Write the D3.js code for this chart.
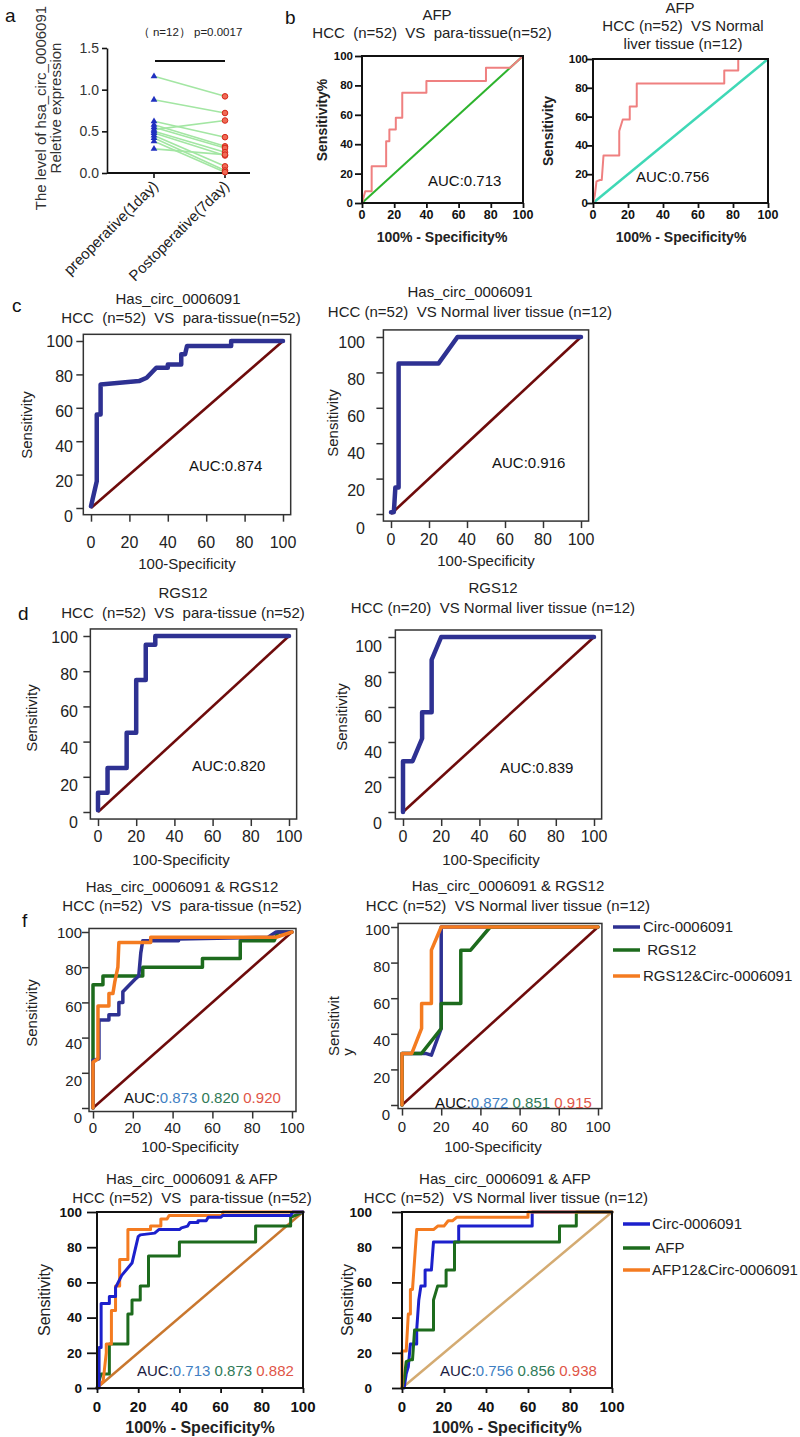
<!DOCTYPE html>
<html><head><meta charset="utf-8">
<script src="https://cdn.jsdelivr.net/npm/d3@7"></script>
<style>
body{margin:0;background:#fff}
text{font-family:"Liberation Sans",Arial,Helvetica,sans-serif;white-space:pre}
</style></head>
<body><svg id="fig" width="800" height="1437"></svg>
<script>
// ---------------- DATA ----------------
const rocTicks = [0, 20, 40, 60, 80, 100];
const aTicks = [0, 0.5, 1.0, 1.5];
const aCategories = ["preoperative(1day)", "Postoperative(7day)"];
const preValues  = [1.16, 0.88, 0.62, 0.58, 0.55, 0.52, 0.50, 0.48, 0.45, 0.42, 0.38, 0.29];
const postValues = [0.92, 0.72, 0.43, 0.32, 0.30, 0.63, 0.25, 0.21, 0.08, 0.03, 0.01, 0.22];
const diagonal = [[0, 0], [100, 100]];

// panel b : AFP
const afpPara = [[0,0],[1,4],[2,8],[6,8],[6,25],[15,25],[15,42],[17,42],[17,50],[21,50],[21,58],[25,58],[25,75],[40,75],[40,83],[77,83],[77,92],[92,92],[100,100]];
const afpNormal = [[0,0],[1,5],[2,15],[4,16],[5,16],[6,33],[15,33],[15,50],[17,58],[21,58],[21,67],[25,67],[25,83],[75,83],[75,92],[83,92],[83,100],[100,100]];
// panel c : Has_circ_0006091
const circPara = [[0,1],[3,16],[3,56],[5,56],[5,74],[25,76],[29,78],[34,84],[40,84],[40,86],[47,86],[47,92],[49,92],[50,97],[73,97],[73,100],[100,100]];
const circNormal = [[0,1],[1.5,1],[2.3,15],[4,15],[4,85],[25,85],[35,100],[100,100]];
// panel d : RGS12
const rgsPara = [[0,1],[0,11],[5,11],[5,25],[15,25],[15,45],[20,45],[20,75],[25,75],[25,95],[30,95],[30,100],[100,100]];
const rgsNormal = [[0,0],[0,29],[5,29],[10,42],[10,57],[15,57],[15,87],[20,100],[100,100]];
// panel f : combined circ + RGS12
const comboRgsParaCirc = [[0,0],[0,27],[3,28],[3,50],[8,50],[8,53],[13,53],[13,60],[15,60],[15,66],[21,73],[23,75],[24,88],[25,95],[43,95],[43,96],[88,97],[92,100],[100,100]];
const comboRgsParaRgs = [[0,0],[0,70],[5,70],[5,75],[25,75],[25,80],[55,80],[55,85],[74,85],[74,95],[91,95],[93,100],[100,100]];
const comboRgsParaBoth = [[0,0],[0,26],[2.5,28],[2.5,58],[8,58],[8,65],[10,65],[11,72],[12.5,80],[13,94],[29,94],[29,97],[92,97],[100,100]];
const comboRgsNormCirc = [[0,0],[0,29],[12,29],[15,28],[20,43],[20,100],[100,100]];
const comboRgsNormRgs = [[0,0],[0,29],[10,29],[20,43],[20,57],[30,57],[30,87],[35,87],[45,100],[100,100]];
const comboRgsNormBoth = [[0,0],[0,29],[5,29],[10,43],[10,57],[15,57],[15,87],[20,100],[100,100]];
// combined circ + AFP
const comboAfpParaCirc = [[0,0],[1,0],[1,23],[2,23],[2,48],[6,48],[6,52],[9,52],[9,57],[12,64],[17,71],[19,81],[20,86],[21,87],[28,88],[29,89],[30,90],[40,90],[41,91],[44,92],[45,94],[49,94],[49,95],[53,95],[54,97],[60,97],[61,98],[94,98],[95,100],[100,100]];
const comboAfpParaAfp = [[0,0],[2,8],[6,8],[6,25],[15,25],[15,42],[17,42],[17,50],[21,50],[21,58],[25,58],[25,75],[40,75],[40,83],[77,83],[77,92],[94,92],[94,97],[100,100]];
const comboAfpParaBoth = [[0,0],[3,4],[4.5,20],[4.5,25],[7,25],[7,44],[9,44],[9,58],[11,58],[11,73],[15,73],[15,90],[26,90],[26,92],[31,92],[31,96],[34,96],[35,98],[61,98],[61,100],[100,100]];
const comboAfpNormCirc = [[0,0],[1,0],[2,8],[3,12],[4,25],[7,25],[7,33],[8,50],[9,58],[11,58],[11,67],[14,67],[15,83],[27,83],[27,92],[62,92],[62,100],[100,100]];
const comboAfpNormAfp = [[0,0],[1,5],[2,15],[4,16],[5,16],[6,33],[15,33],[15,50],[17,58],[21,58],[21,67],[25,67],[25,83],[75,83],[75,92],[83,92],[83,100],[100,100]];
const comboAfpNormBoth = [[0,0],[0,21],[2,21],[3,42],[4,42],[4,56],[5,56],[6,73],[7,90],[15,90],[17,92],[20,92],[22,95],[24,95],[26,97],[60,97],[60,100],[100,100]];

const legendRgs = ["Circ-0006091", " RGS12", "RGS12&Circ-0006091"];
const legendAfp = ["Circ-0006091", " AFP", "AFP12&Circ-0006091"];

// ---------------- STYLE ----------------
const C = {
  navy: "#2e3192", darkred: "#6e0b0b", blue2: "#1c20cc", green: "#1d6b1d", orange: "#f47b20",
  pink: "#ef8080", lgreen: "#2db32d", teal: "#3fd8b6", brownDiag: "#c9772e", tanDiag: "#d4ab72",
  aucBlue: "#3f7fc3", aucGreen: "#2f7a57", aucRed: "#df5547", txt: "#222"
};

const svg = d3.select("#fig");

function txt(x, y, s, o = {}) {
  const t = svg.append("text").attr("x", x).attr("y", y).text(s)
    .attr("font-size", o.size || 15)
    .attr("text-anchor", o.anchor || "middle")
    .attr("fill", o.fill || C.txt)
    .attr("font-weight", o.bold ? "bold" : "normal");
  if (o.rotate) t.attr("transform", `rotate(${o.rotate},${x},${y})`);
  return t;
}

// ---------------- PANEL a ----------------
(function () {
  const ay = d3.scaleLinear().domain([0, 1.5]).range([173, 48]);
  const ax = d3.scalePoint().domain(aCategories).range([154, 225]);
  const g = svg.append("g");
  const yAxis = d3.axisLeft(ay).tickValues(aTicks).tickFormat(d3.format(".1f")).tickSize(5).tickSizeOuter(0).tickPadding(3);
  const gy = g.append("g").attr("transform", "translate(107,0)").call(yAxis);
  gy.select(".domain").attr("stroke", "#111").attr("stroke-width", 1.6);
  gy.selectAll(".tick line").attr("stroke", "#111").attr("stroke-width", 1.6);
  gy.selectAll("text").attr("font-size", 14).attr("fill", "#333").attr("font-family", null);
  // x axis
  g.append("line").attr("x1", 107).attr("x2", 250).attr("y1", ay(0)).attr("y2", ay(0)).attr("stroke", "#111").attr("stroke-width", 1.8);
  aCategories.forEach(c => {
    g.append("line").attr("x1", ax(c)).attr("x2", ax(c)).attr("y1", ay(0)).attr("y2", ay(0) + 5).attr("stroke", "#111").attr("stroke-width", 1.6);
    txt(ax(c) + 5, 187, c, { size: 15, anchor: "end", rotate: -45, fill: "#222" });
  });
  // paired lines
  const xPre = ax(aCategories[0]), xPost = ax(aCategories[1]);
  preValues.forEach((v, i) => {
    g.append("line").attr("x1", xPre).attr("y1", ay(v)).attr("x2", xPost).attr("y2", ay(postValues[i]))
      .attr("stroke", "#a3e6a3").attr("stroke-width", 1.6);
  });
  const tri = d3.symbol(d3.symbolTriangle, 20);
  preValues.forEach(v => g.append("path").attr("d", tri).attr("transform", `translate(${xPre},${ay(v)})`).attr("fill", "#2030c0"));
  postValues.forEach(v => g.append("circle").attr("cx", xPost).attr("cy", ay(v)).attr("r", 2.8).attr("fill", "#f06a55").attr("stroke", "#d42a1a").attr("stroke-width", 1));
  // significance bar
  g.append("line").attr("x1", 155).attr("x2", 225).attr("y1", 61).attr("y2", 61).attr("stroke", "#111").attr("stroke-width", 2);
  txt(190, 36, "（ n=12） p=0.0017", { size: 11.5, fill: "#222" });
  // y title
  txt(46, 108, "The level of hsa_circ_0006091", { size: 15, rotate: -90, fill: "#333" });
  txt(61, 108, "Reletive expression", { size: 15, rotate: -90, fill: "#333" });
})();

// ---------------- ROC PANELS ----------------
function roc(p) {
  const x = d3.scaleLinear().domain([0, 100]).range([p.x0, p.x100]);
  const y = d3.scaleLinear().domain([0, 100]).range([p.y0, p.y100]);
  const yl = d3.scaleLinear().domain([0, 100]).range([p.yLab0 ?? p.y0, p.yLab100 ?? p.y100]);
  const pad = p.pad || 0;
  const L = x(-pad), R = x(100 + pad), B = y(-pad), T = y(100 + pad);
  const g = svg.append("g");
  const line = d3.line().x(d => x(d[0])).y(d => y(d[1]));
  g.append("path").datum(diagonal).attr("d", line).attr("fill", "none")
    .attr("stroke", p.diag.color).attr("stroke-width", p.diag.w);
  p.series.forEach(s => g.append("path").datum(s.data).attr("d", line).attr("fill", "none")
    .attr("stroke", s.color).attr("stroke-width", p.lineW)
    .attr("stroke-linejoin", "round").attr("stroke-linecap", "round"));
  // box
  g.append("rect").attr("x", L).attr("y", T).attr("width", R - L).attr("height", B - T)
    .attr("fill", "none").attr("stroke", p.box.color).attr("stroke-width", p.box.w);
  // axes (ticks only, labels placed below)
  const gx = g.append("g").attr("transform", `translate(0,${B})`)
    .call(d3.axisBottom(x).tickValues(rocTicks).tickSize(p.tickX).tickSizeOuter(0).tickFormat(""));
  gx.select(".domain").remove();
  gx.selectAll(".tick line").attr("stroke", p.box.color).attr("stroke-width", p.tickW);
  const gy = g.append("g").attr("transform", `translate(${L},0)`)
    .call(d3.axisLeft(y).tickValues(rocTicks).tickSize(p.tickY).tickSizeOuter(0).tickFormat(""));
  gy.select(".domain").remove();
  gy.selectAll(".tick line").attr("stroke", p.box.color).attr("stroke-width", p.tickW);
  rocTicks.forEach(v => {
    txt(x(v), p.xLabBase, String(v), { size: p.tickFontX, bold: p.tickBold, fill: p.tickFill || C.txt });
    txt(p.yLabRight, yl(v), String(v), { size: p.tickFontY, bold: p.tickBold, anchor: "end", fill: p.tickFill || C.txt })
      .attr("dy", "0.35em");
  });
  // titles
  p.titles.forEach(t => txt(t[1], t[2], t[0], { size: p.titleSize || 15 }));
  txt(p.xTitle[1], p.xTitle[2], p.xTitle[0], { size: p.axTitleSize, bold: p.xTitleBold });
  p.yTitle.forEach(t => txt(t[1], t[2], t[0], { size: p.axTitleSize, bold: p.yTitleBold, rotate: -90 }));
  // AUC
  const a = svg.append("text").attr("x", p.auc.x).attr("y", p.auc.y).attr("font-size", p.auc.size || 15);
  p.auc.parts.forEach(q => a.append("tspan").text(q[0]).attr("fill", q[1]));
  // legend
  if (p.legend) {
    p.legend.items.forEach((it, i) => {
      const ly = p.legend.y[i];
      svg.append("line").attr("x1", p.legend.x1).attr("x2", p.legend.x2).attr("y1", ly).attr("y2", ly)
        .attr("stroke", p.series[it.si].color).attr("stroke-width", p.legend.w);
      txt(p.legend.tx, ly + 5, it.label, { size: 15, anchor: "start" });
    });
  }
}

const gpB = { box: { color: "#111", w: 2 }, tickX: 5, tickY: 7, tickW: 1.8, tickBold: true, tickFill: "#111",
  tickFontX: 12.5, tickFontY: 11.5, lineW: 2, axTitleSize: 14, xTitleBold: true, yTitleBold: true, pad: 0 };
const rStyle = { box: { color: "#333", w: 1.5 }, tickX: 7, tickY: 7, tickW: 1.5, tickBold: false,
  tickFontX: 16, tickFontY: 16, lineW: 4.5, axTitleSize: 15, pad: 4, diag: { color: C.darkred, w: 2.6 } };

const panels = [
  Object.assign({}, gpB, {
    x0: 362, x100: 523, y0: 203, y100: 56, xLabBase: 219, yLabRight: 353,
    diag: { color: C.lgreen, w: 2 }, series: [{ data: afpPara, color: C.pink }],
    titles: [["AFP", 437, 20], ["HCC  (n=52)  VS  para-tissue(n=52)", 432, 38]],
    xTitle: ["100% - Specificity%", 442, 242], yTitle: [["Sensitivity%", 327, 120]],
    auc: { x: 428, y: 186, parts: [["AUC:0.713", "#111"]] }
  }),
  Object.assign({}, gpB, {
    x0: 593, x100: 768, y0: 203, y100: 59, xLabBase: 219, yLabRight: 588,
    diag: { color: C.teal, w: 2.5 }, series: [{ data: afpNormal, color: C.pink }],
    titles: [["AFP", 680, 13], ["HCC (n=52)  VS Normal", 683, 31], ["liver tissue (n=12)", 683, 49]],
    xTitle: ["100% - Specificity%", 681, 242], yTitle: [["Sensitivity", 553, 131]],
    auc: { x: 636, y: 182, parts: [["AUC:0.756", "#111"]] }
  }),
  Object.assign({}, rStyle, {
    x0: 91, x100: 283, y0: 508, y100: 341, xLabBase: 548, yLabRight: 73, yLab0: 516, yLab100: 341,
    series: [{ data: circPara, color: C.navy }],
    titles: [["Has_circ_0006091", 178, 304], ["HCC  (n=52)  VS  para-tissue(n=52)", 181, 323]],
    xTitle: ["100-Specificity", 187, 569], yTitle: [["Sensitivity", 32, 425]],
    auc: { x: 189, y: 471, parts: [["AUC:0.874", "#111"]] }
  }),
  Object.assign({}, rStyle, {
    x0: 391, x100: 581, y0: 514, y100: 337, xLabBase: 545, yLabRight: 365, yLab0: 528, yLab100: 342,
    series: [{ data: circNormal, color: C.navy }],
    titles: [["Has_circ_0006091", 470, 297], ["HCC (n=52)  VS Normal liver tissue (n=12)", 470, 317]],
    xTitle: ["100-Specificity", 486, 566], yTitle: [["Sensitivity", 338, 423]],
    auc: { x: 492, y: 468, parts: [["AUC:0.916", "#111"]] }
  }),
  Object.assign({}, rStyle, {
    x0: 98, x100: 289, y0: 812, y100: 636, xLabBase: 842, yLabRight: 78, yLab0: 822, yLab100: 637,
    series: [{ data: rgsPara, color: C.navy }],
    titles: [["RGS12", 183, 598], ["HCC  (n=52)  VS  para-tissue (n=52)", 183, 618]],
    xTitle: ["100-Specificity", 181, 865], yTitle: [["Sensitivity", 37, 718]],
    auc: { x: 192, y: 771, parts: [["AUC:0.820", "#111"]] }
  }),
  Object.assign({}, rStyle, {
    x0: 403, x100: 594, y0: 812, y100: 637, xLabBase: 842, yLabRight: 382, yLab0: 823, yLab100: 646,
    series: [{ data: rgsNormal, color: C.navy }],
    titles: [["RGS12", 493, 593], ["HCC (n=20)  VS Normal liver tissue (n=12)", 493, 613]],
    xTitle: ["100-Specificity", 491, 865], yTitle: [["Sensitivity", 347, 717]],
    auc: { x: 500, y: 773, parts: [["AUC:0.839", "#111"]] }
  }),
  Object.assign({}, rStyle, {
    x0: 93, x100: 292, y0: 1108, y100: 932, pad: 2, xLabBase: 1133, yLabRight: 82, yLab0: 1118, yLab100: 933,
    tickFontX: 15, tickFontY: 15, lineW: 3.5,
    series: [{ data: comboRgsParaRgs, color: C.green }, { data: comboRgsParaCirc, color: C.navy }, { data: comboRgsParaBoth, color: C.orange }],
    titles: [["Has_circ_0006091 & RGS12", 182, 892], ["HCC (n=52)  VS  para-tissue (n=52)", 182, 911]],
    xTitle: ["100-Specificity", 190, 1152], yTitle: [["Sensitivity", 37, 1013]],
    auc: { x: 124, y: 1103, parts: [["AUC:", "#111"], ["0.873", C.aucBlue], [" 0.820", C.aucGreen], [" 0.920", C.aucRed]] }
  }),
  Object.assign({}, rStyle, {
    x0: 402, x100: 598, y0: 1105, y100: 927, pad: 2, xLabBase: 1132, yLabRight: 390, yLab0: 1115, yLab100: 930,
    tickFontX: 15, tickFontY: 15, lineW: 3.5,
    series: [{ data: comboRgsNormCirc, color: C.navy }, { data: comboRgsNormRgs, color: C.green }, { data: comboRgsNormBoth, color: C.orange }],
    titles: [["Has_circ_0006091 & RGS12", 508, 891], ["HCC (n=52)  VS Normal liver tissue (n=12)", 508, 911]],
    xTitle: ["100-Specificity", 493, 1152], yTitle: [["Sensitivit", 339, 1026], ["y", 353, 1052]],
    auc: { x: 435, y: 1108, parts: [["AUC:", "#111"], ["0.872", C.aucBlue], [" 0.851", C.aucGreen], [" 0.915", C.aucRed]] },
    legend: { x1: 613, x2: 640, tx: 643, w: 3.5, y: [927, 950, 976],
      items: [{ si: 0, label: legendRgs[0] }, { si: 1, label: legendRgs[1] }, { si: 2, label: legendRgs[2] }] }
  }),
  Object.assign({}, gpB, {
    x0: 97, x100: 303, y0: 1388, y100: 1212, xLabBase: 1412, yLabRight: 82, tickY: 10, tickFontX: 15, tickFontY: 13.5,
    lineW: 3, axTitleSize: 16, yTitleBold: false,
    diag: { color: C.brownDiag, w: 2.5 },
    series: [{ data: comboAfpParaAfp, color: C.green }, { data: comboAfpParaBoth, color: C.orange }, { data: comboAfpParaCirc, color: C.blue2 }],
    titles: [["Has_circ_0006091 & AFP", 192, 1184], ["HCC (n=52)  VS  para-tissue (n=52)", 192, 1203]],
    xTitle: ["100% - Specificity%", 200, 1433], yTitle: [["Sensitivity", 50, 1300]],
    auc: { x: 137, y: 1376, parts: [["AUC:", "#1a1a40"], ["0.713", C.aucBlue], [" 0.873", C.aucGreen], [" 0.882", C.aucRed]] }
  }),
  Object.assign({}, gpB, {
    x0: 402, x100: 612, y0: 1388, y100: 1212, xLabBase: 1412, yLabRight: 372, tickY: 10, tickFontX: 15, tickFontY: 13.5,
    lineW: 3, axTitleSize: 16, yTitleBold: false,
    diag: { color: C.tanDiag, w: 2.5 },
    series: [{ data: comboAfpNormCirc, color: C.blue2 }, { data: comboAfpNormAfp, color: C.green }, { data: comboAfpNormBoth, color: C.orange }],
    titles: [["Has_circ_0006091 & AFP", 505, 1184], ["HCC (n=52)  VS Normal liver tissue (n=12)", 506, 1203]],
    xTitle: ["100% - Specificity%", 507, 1433], yTitle: [["Sensitivity", 353, 1300]],
    auc: { x: 440, y: 1376, parts: [["AUC:", "#1a1a40"], ["0.756", C.aucBlue], [" 0.856", C.aucGreen], [" 0.938", C.aucRed]] },
    legend: { x1: 623, x2: 650, tx: 652, w: 3.5, y: [1224, 1248, 1270],
      items: [{ si: 0, label: legendAfp[0] }, { si: 1, label: legendAfp[1] }, { si: 2, label: legendAfp[2] }] }
  })
];
panels.forEach(roc);

// panel letters
[["a", 5, 22], ["b", 285, 24], ["c", 12, 312], ["d", 18, 620], ["f", 22, 927]]
  .forEach(l => txt(l[1], l[2], l[0], { size: 19, anchor: "start", fill: "#111" }));
</script></body></html>
